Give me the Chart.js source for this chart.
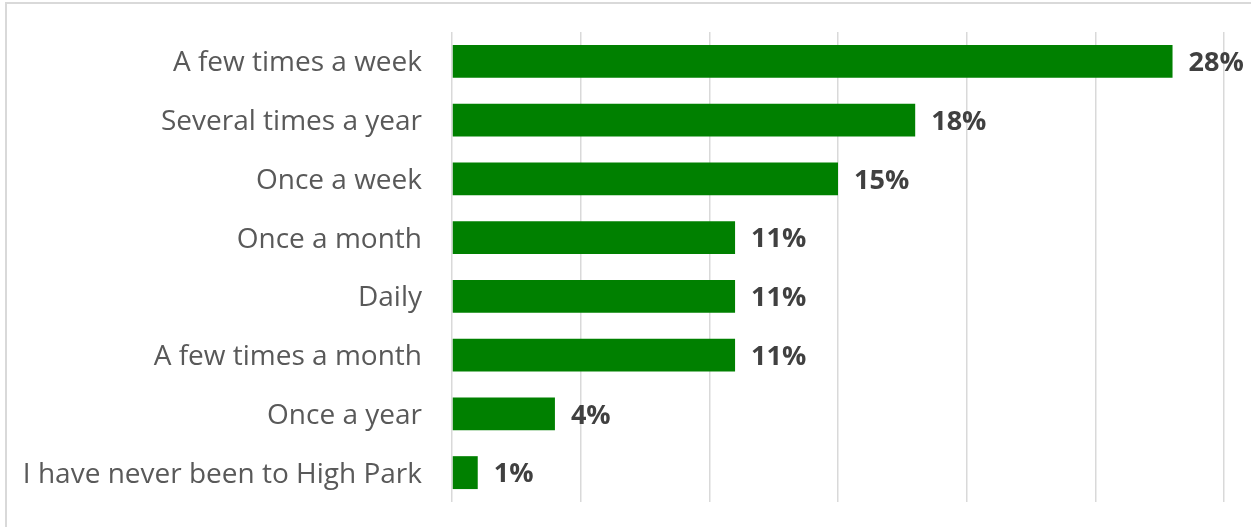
<!DOCTYPE html>
<html>
<head>
<meta charset="utf-8">
<script src="https://cdn.jsdelivr.net/npm/chart.js@4"></script>
<style>
  html, body { margin: 0; padding: 0; background: #fff; }
  #wrap { width: 1251px; height: 527px; position: relative; }
</style>
</head>
<body>
<div id="wrap"><canvas id="chart"></canvas></div>
<script>
// data
const categories = [
    'A few times a week',
    'Several times a year',
    'Once a week',
    'Once a month',
    'Daily',
    'A few times a month',
    'Once a year',
    'I have never been to High Park'
];
const shares = [28, 18, 15, 11, 11, 11, 4, 1];
const axisMax = 30;
const axisStep = 5;

/* === PLUGINY === */

// rámeček kolem grafu (jen horní a levá hrana je vidět)
const framePlugin = {
    id: 'frame',
    beforeDraw(chart) {
        const ctx = chart.ctx;
        ctx.save();
        ctx.strokeStyle = '#d9d9d9';
        ctx.lineWidth = 2;
        ctx.beginPath();
        ctx.moveTo(6, chart.height);
        ctx.lineTo(6, 3);
        ctx.lineTo(chart.width, 3);
        ctx.stroke();
        ctx.restore();
    }
};

// popisky hodnot za koncem sloupce
const valueLabels = {
    id: 'valueLabels',
    afterDatasetsDraw(chart) {
        const ctx = chart.ctx;
        const meta = chart.getDatasetMeta(0);
        ctx.save();
        ctx.font = 'bold 27px "Open Sans", sans-serif';
        ctx.fillStyle = '#404040';
        ctx.textAlign = 'left';
        ctx.textBaseline = 'middle';
        meta.data.forEach((bar, i) => {
            ctx.fillText(`${shares[i]}%`, bar.x + 16, bar.y + 2);
        });
        ctx.restore();
    }
};

const ctx = document.getElementById('chart').getContext('2d');
const chart = new Chart(ctx, {
    type: 'bar',
    data: {
        labels: categories,
        datasets: [{
            data: shares,
            backgroundColor: '#008000',
            borderWidth: 0,
            barPercentage: 0.56,
            categoryPercentage: 1
        }]
    },
    options: {
        indexAxis: 'y',
        responsive: true,
        maintainAspectRatio: false,
        animation: false,
        layout: { padding: { top: 32, right: 27, bottom: 25, left: 0 } },
        plugins: {
            legend: { display: false },
            tooltip: { enabled: false }
        },
        scales: {
            x: {
                min: 0,
                max: axisMax,
                ticks: { display: false, stepSize: axisStep },
                grid: { color: '#d9d9d9', lineWidth: 1.5, drawTicks: false },
                border: { display: false },
                afterFit(scale) { scale.height = 0; }
            },
            y: {
                ticks: {
                    color: '#595959',
                    padding: 30,
                    labelOffset: 2,
                    font: { family: '"Open Sans", sans-serif', size: 28 }
                },
                grid: { display: false, drawTicks: false },
                border: { display: false },
                afterFit(scale) {
                    scale.width = 452;
                    scale.paddingTop = 0;
                    scale.paddingBottom = 0;
                }
            }
        }
    },
    plugins: [framePlugin, valueLabels]
});
</script>
</body>
</html>
